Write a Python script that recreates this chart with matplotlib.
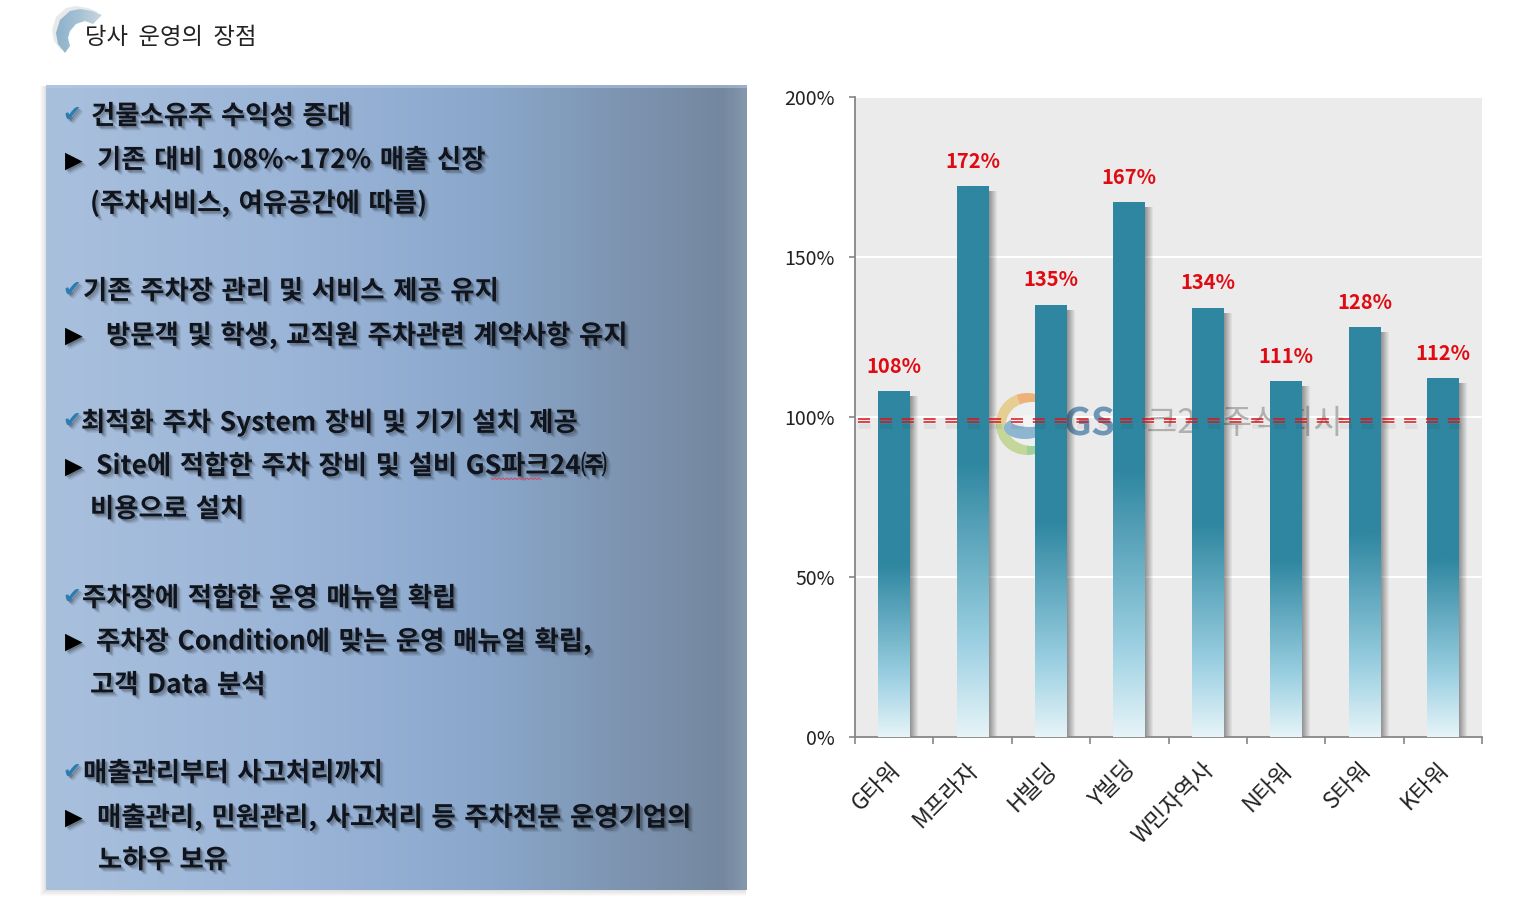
# -*- coding: utf-8 -*-
import numpy as np
import matplotlib.pyplot as plt
import matplotlib.patheffects as pe
from matplotlib.colors import LinearSegmentedColormap
from matplotlib.patches import Wedge, Polygon, Ellipse
from matplotlib.transforms import ScaledTranslation

plt.rcParams['font.family'] = ['Noto Sans CJK KR', 'DejaVu Sans']

buildings = ['G타워', 'M프라자', 'H빌딩', 'Y빌딩', 'W민자역사', 'N타워', 'S타워', 'K타워']
ratios = [108, 172, 135, 167, 134, 111, 128, 112]
y_ticks = [0, 50, 100, 150, 200]
base_line = 99

title = '당사 운영의 장점'
panel_lines = [
    '건물소유주 수익성 증대',
    '기존 대비 108%~172% 매출 신장',
    '(주차서비스, 여유공간에 따름)',
    '기존 주차장 관리 및 서비스 제공 유지',
    '방문객 및 학생, 교직원 주차관련 계약사항 유지',
    '최적화 주차 System 장비 및 기기 설치 제공',
    'Site에 적합한 주차 장비 및 설비 GS파크24㈜',
    '비용으로 설치',
    '주차장에 적합한 운영 매뉴얼 확립',
    '주차장 Condition에 맞는 운영 매뉴얼 확립,',
    '고객 Data 분석',
    '매출관리부터 사고처리까지',
    '매출관리, 민원관리, 사고처리 등 주차전문 운영기업의',
    '노하우 보유',
]
line_x = [91, 97, 90, 83, 106, 81, 96, 90, 82, 96, 90, 83, 97, 98]
line_y = [115, 159, 202, 290, 334, 421, 465, 508, 597, 640, 684, 772, 816, 859]
check_y = [115, 290, 421, 597, 772]
arrow_y = [159, 334, 465, 640, 816]

W, H = 1521, 897
fig = plt.figure(figsize=(W / 100, H / 100), dpi=100)

# bottom layer in pixel coordinates
page = fig.add_axes([0, 0, 1, 1])
page.axis('off')


def wide(s):
    # the slide font has wider word gaps
    return s.replace(' ', '  ')


def semi_wide(s):
    return s.replace(' ', ' \u200a')


# panel shadow then panel
for s in range(7):
    page.fill_between([46 - s, 746], 86, 890 + s, color='k', alpha=0.018, lw=0)
panel_cmap = LinearSegmentedColormap.from_list(
    'panel', [(0, '#A9C0DD'), (0.35, '#9BB5D8'), (0.62, '#8BA8CC'),
              (0.85, '#7C92AE'), (0.97, '#74879F'), (1, '#8496AC')])
page.imshow(np.linspace(0, 1, 300)[None, :], cmap=panel_cmap, aspect='auto',
            extent=[46, 747, 890, 85], zorder=2)
page.fill_between([46, 747], 85, 88, color='#B9CBE2', alpha=0.5, lw=0, zorder=2)

text_fx = [pe.SimplePatchShadow(offset=(3.2, -3.2), shadow_rgbFace='k', alpha=0.08),
           pe.SimplePatchShadow(offset=(2.2, -2.2), shadow_rgbFace='k', alpha=0.14),
           pe.SimplePatchShadow(offset=(1.2, -1.2), shadow_rgbFace='k', alpha=0.2),
           pe.Normal()]

for x, y, s in zip(line_x, line_y, panel_lines):
    page.text(x, y + 1.5, semi_wide(s), fontsize=19, fontweight='bold', color='#10141c',
              va='center', ha='left', zorder=4, path_effects=text_fx)
for y in check_y:
    page.text(63, y, '✔', fontsize=16, color='#2A7DB0', va='center', ha='left',
              family='DejaVu Sans', zorder=4, path_effects=text_fx)
for y in arrow_y:
    page.text(65, y + 2, '▶', fontsize=16.5, color='k', va='center', ha='left',
              family='DejaVu Sans', zorder=4, path_effects=text_fx)

# red spell-check squiggle under the company name
sq_x = np.arange(491, 542, 2)
sq_y = 478 + (np.arange(sq_x.size) % 2) * 1.6
page.plot(sq_x, sq_y, color='#C8506A', lw=0.8, zorder=5)

# curled arrow beside the heading, grey offset shape under a blue gradient
curl = np.array([[65, 53], [58, 44], [56, 33], [60, 20], [70, 11], [80, 9], [92, 11],
                 [102, 15], [93, 24], [85, 21], [76, 24], [70, 31], [68, 38], [70, 46]])
page.add_patch(Polygon(curl + [-4, -3], fc='#E6E8EA', ec='none', zorder=1))
curl_patch = Polygon(curl, fc='none', ec='none', zorder=2)
page.add_patch(curl_patch)
curl_cmap = LinearSegmentedColormap.from_list('curl', ['#8DB2CA', '#A5C1D5', '#C9D6DF'])
curl_im = page.imshow(np.linspace(0, 1, 64)[None, :], cmap=curl_cmap, aspect='auto',
                      extent=[56, 102, 53, 9], zorder=2)
curl_im.set_clip_path(curl_patch)
page.text(85, 38, wide(title), fontsize=16.8, color='#222222', va='center', ha='left',
          zorder=3)

page.set_xlim(0, W)
page.set_ylim(H, 0)

# bar chart, x axis on the category boundaries
ax = fig.add_axes([855 / W, 1 - 737 / H, (1482 - 855) / W, (737 - 97) / H])
ax.set_facecolor('#EBEBEB')
ax.patch.set_zorder(0)
for side in ['top', 'right']:
    ax.spines[side].set_visible(False)
for side in ['left', 'bottom']:
    ax.spines[side].set_color('#868686')
    ax.spines[side].set_linewidth(1.3)

pos = np.arange(len(buildings))
bar_w = 0.405

ax.yaxis.grid(True, color='white', lw=1.4, zorder=1)
ax.set_axisbelow(True)

# logo watermark behind the bars
tr = page.transData
for t1, t2, col in [(180, 250, '#E6CE92'), (250, 360, '#EDB27A'), (0, 90, '#9FD09A'),
                    (90, 180, '#C4D69A')]:
    ax.add_patch(Wedge((1027, 424), 31, t1, t2, fc=col, ec='none', transform=tr,
                       zorder=1.5))
ax.add_patch(Ellipse((1032, 424), 52, 44, fc='#EEF0F0', ec='none', transform=tr,
                     zorder=1.51))
ax.add_patch(Ellipse((1025, 428), 42, 22, fc='#8FB6D0', ec='none', transform=tr,
                     zorder=1.52))
ax.add_patch(Ellipse((1030, 421), 38, 12, fc='#F4F4F4', ec='none', transform=tr,
                     zorder=1.53))
ax.text(1064, 424, 'GS', transform=tr, fontsize=28, fontweight='bold',
        color='#6F97B5', va='center', ha='left', zorder=1.6)
ax.text(1116, 424, '파크24 주식회사', transform=tr, fontsize=24,
        color='#B0B0B0', va='center', ha='left', zorder=1.6)

# bar fill fades out towards the base
bar_cmap = LinearSegmentedColormap.from_list(
    'bar', [(0, '#E6F4F8'), (0.17, '#9CD0E2'), (0.5, '#2E86A0'), (1, '#2E86A0')])
fade = np.linspace(1, 0, 256)[:, None]
side_fade = np.zeros((1, 12, 4))
side_fade[0, :, 3] = np.linspace(0.42, 0, 12)

bars = ax.bar(pos, ratios, width=bar_w, color='none', zorder=3)
for rect, val in zip(bars, ratios):
    x0 = rect.get_x()
    x1 = x0 + rect.get_width()
    ax.imshow(side_fade, extent=[x1 - 0.01, x1 + 0.11, 0, val - 1.6], aspect='auto',
              interpolation='bilinear', zorder=2.5)
    ax.imshow(fade, cmap=bar_cmap, vmin=0, vmax=1, aspect='auto',
              extent=[x0, x1, 0, val], zorder=3)
    ax.annotate(f'{val}%', (rect.get_x() + bar_w / 2, val), xytext=(0, 18.2),
                textcoords='offset points', ha='center', va='center',
                color='#E00B12', fontsize=14.5, fontweight='bold', zorder=6)

# two thin dashes for the baseline, with a soft shadow under them
line_from, line_to = -0.46, 7.32
ax.plot([line_from, line_to], [base_line - 1.8] * 2, color='k', alpha=0.05, lw=3.5,
        ls=(0, (2.5, 2)), zorder=4)
for off in (0.5, -0.5):
    ax.plot([line_from, line_to], [base_line + off] * 2, color='#D8161C', lw=1.1,
            ls=(0, (7.9, 6.4)), zorder=5)

ax.set_xlim(-0.5, 7.5)
ax.set_ylim(0, 200)
ax.set_yticks(y_ticks)
ax.set_yticklabels([f'{t}%' for t in y_ticks], fontsize=14, color='#222222')
ax.set_xticks(np.arange(-0.5, 8))
ax.set_xticklabels([])
ax.set_xticks(pos, minor=True)
ax.set_xticklabels(buildings, minor=True, rotation=45, ha='right',
                   rotation_mode='anchor', fontsize=16.5, color='#222222')
ax.tick_params(axis='y', length=4.5, width=1.2, color='#868686', pad=10)
ax.tick_params(axis='x', which='major', length=5, width=1.2, color='#868686')
ax.tick_params(axis='x', which='minor', length=0, pad=15)
for lab in ax.get_xticklabels(minor=True):
    lab.set_transform(lab.get_transform() + ScaledTranslation(-4 / 72, 0, fig.dpi_scale_trans))

fig.savefig('out.png', dpi=100)
